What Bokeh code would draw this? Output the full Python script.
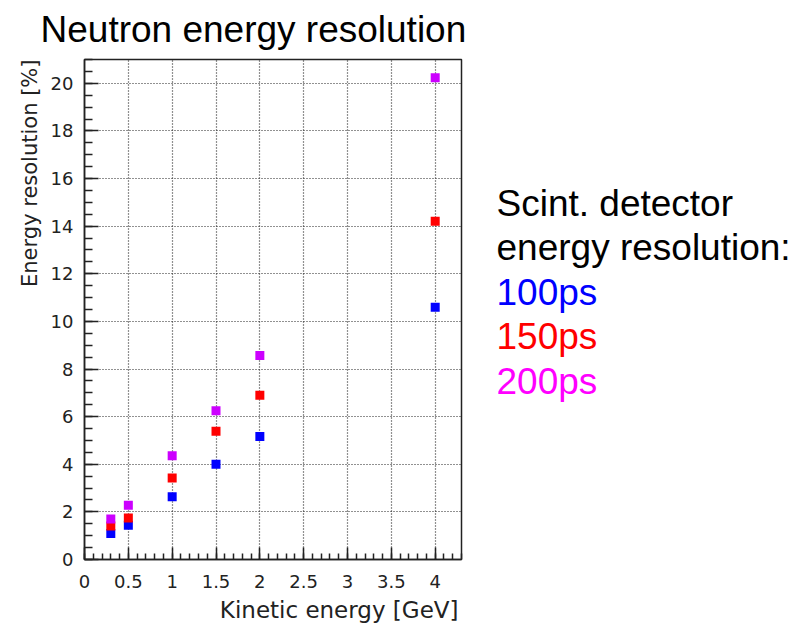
from bokeh.plotting import figure
from bokeh.layouts import row
from bokeh.models import (Range1d, SingleIntervalTicker, NumeralTickFormatter, Title)
from bokeh.core.properties import value
from bokeh.embed import file_html
from bokeh.resources import INLINE

# ---- data ----
energy_gev = [0.3, 0.5, 1.0, 1.5, 2.0, 4.0]
res_100ps = [1.09, 1.44, 2.64, 4.00, 5.17, 10.59]
res_150ps = [1.41, 1.74, 3.42, 5.39, 6.90, 14.21]
res_200ps = [1.70, 2.28, 4.36, 6.25, 8.57, 20.23]

title_text = "Neutron energy resolution"
x_label = "Kinetic energy [GeV]"
y_label = "Energy resolution [%]"
legend_head = ["Scint. detector", "energy resolution:"]
legend_items = ["100ps", "150ps", "200ps"]
legend_colors = ["#0000ff", "#ff0000", "#ff00ff"]
marker_colors = ["#0000ff", "#ff0000", "#cc00ff"]

H = 630
W_MAIN = 480
W_LEG = 797 - W_MAIN
LEFT, TOP, BOTTOM = 84, 59, 71
RIGHT = W_MAIN - 461

p = figure(width=W_MAIN, height=H, output_backend="svg", toolbar_location=None,
           x_range=Range1d(0, 4.3), y_range=Range1d(0, 21),
           min_border_left=LEFT, min_border_right=RIGHT,
           min_border_top=TOP, min_border_bottom=BOTTOM)
p.background_fill_color = "white"
p.border_fill_color = "white"
p.outline_line_color = "#222222"
p.outline_line_width = 1.5

# main title
p.title.text = title_text
p.title.text_font = "Liberation Sans"
p.title.text_font_size = "37px"
p.title.text_font_style = "normal"
p.title.text_color = "black"
p.title.align = "left"
p.title.vertical_align = "top"
p.title.offset = -44
p.title.standoff = 15

tick_font = "DejaVu Sans"
for ax in (p.xaxis[0], p.yaxis[0]):
    ax.axis_line_color = "#222222"
    ax.axis_line_width = 1.5
    ax.major_tick_line_color = "#222222"
    ax.minor_tick_line_color = "#222222"
    ax.major_tick_line_width = 1.5
    ax.minor_tick_line_width = 1.5
    ax.major_tick_out = 0
    ax.minor_tick_out = 0
    ax.major_label_text_font = tick_font
    ax.major_label_text_font_size = "18px"
    ax.major_label_text_color = "#222222"

p.xaxis.ticker = SingleIntervalTicker(interval=0.5, num_minor_ticks=5)
p.yaxis.ticker = SingleIntervalTicker(interval=2, num_minor_ticks=4)
p.xaxis.formatter = NumeralTickFormatter(format="0.[0]")
p.yaxis.formatter = NumeralTickFormatter(format="0")
p.xaxis.major_tick_in = 12
p.xaxis.minor_tick_in = 6
p.yaxis.major_tick_in = 14
p.yaxis.minor_tick_in = 8
p.xaxis.major_label_standoff = 15
p.yaxis.major_label_standoff = 11

# axis titles, aligned to the far ends of their axes
p.add_layout(Title(text=x_label, align="right", text_font=tick_font,
                   text_font_size="23px", text_font_style="normal",
                   text_color="#222222", standoff=8, offset=3), "below")
p.add_layout(Title(text=y_label, align="right", text_font=tick_font,
                   text_font_size="21px", text_font_style="normal",
                   text_color="#222222", standoff=12), "left")

for g in (p.xgrid[0], p.ygrid[0]):
    g.grid_line_color = "#222222"
    g.grid_line_width = 1.2
    g.grid_line_dash = "1 2"

for ys, c in zip([res_100ps, res_150ps, res_200ps], marker_colors):
    p.scatter(energy_gev, ys, marker="square", size=9, fill_color=c,
              line_color=c, line_width=0)

# ---- legend text panel: frame aligned with the main frame, y in page pixels ----
q = figure(width=W_LEG, height=H, output_backend="svg", toolbar_location=None,
           x_range=Range1d(0, W_LEG), y_range=Range1d(H - BOTTOM, TOP),
           x_axis_location=None, y_axis_location=None,
           min_border_left=0, min_border_right=0,
           min_border_top=TOP, min_border_bottom=BOTTOM)
q.outline_line_color = None
q.background_fill_color = "white"
q.border_fill_color = "white"
q.xgrid.visible = False
q.ygrid.visible = False

leg_texts = legend_head + legend_items
leg_cols = ["black", "black"] + legend_colors
base0, step = 215.7, 44.4
mid_shift = 12.8  # baseline -> middle of em box at 37px
leg_y = [base0 + i * step - mid_shift for i in range(len(leg_texts))]
q.text(x=[496 - W_MAIN] * len(leg_texts), y=leg_y, text=leg_texts,
       text_color=leg_cols, text_font=value("Liberation Sans"),
       text_font_size="37px", text_baseline="middle", text_align="left")

layout = row(p, q, spacing=0)
open("out.html", "w").write(file_html(layout, INLINE))
